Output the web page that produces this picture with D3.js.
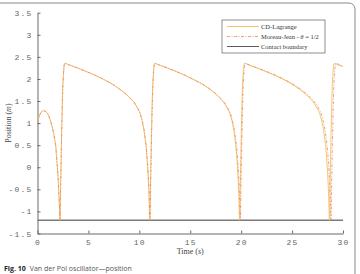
<!DOCTYPE html>
<html>
<head>
<meta charset="utf-8">
<script src="https://cdn.jsdelivr.net/npm/d3@7"></script>
<style>
  body { margin: 0; background: #fff; }
  svg { display: block; }
</style>
</head>
<body>
<div id="chart"></div>
<script>
// values (time in s, position in m)
const cdTime = [
  0, 0.25, 0.57, 0.9, 1.16, 1.4, 1.65, 1.8, 1.9, 2.0, 2.08, 2.15, 2.21,
  2.27, 2.37, 2.47, 2.55, 2.67, 3.2, 4.77, 6.41, 8.05, 9.03, 9.69, 10.18, 10.5, 10.77, 10.93, 11.03,
  11.09, 11.19, 11.29, 11.37, 11.5, 12.0, 13.6, 15.2, 16.9, 17.85, 18.5, 19.0, 19.32, 19.59, 19.75, 19.85,
  19.91, 20.01, 20.11, 20.19, 20.32, 20.8, 22.4, 24.05, 25.7, 26.67, 27.33, 27.82, 28.14, 28.41, 28.57, 28.67,
  28.73, 28.83, 28.93, 29.01, 29.14, 29.6, 30
];
const cdPos = [
  1.02, 1.2, 1.28, 1.24, 1.13, 0.95, 0.68, 0.45, 0.15, -0.15, -0.52, -0.85, -1.2,
  -0.45, 0.76, 1.7, 2.1, 2.35, 2.31, 2.17, 2.0, 1.77, 1.58, 1.39, 1.13, 0.76, 0.15, -0.52, -1.2,
  -0.45, 0.76, 1.7, 2.1, 2.35, 2.31, 2.17, 2.0, 1.77, 1.58, 1.39, 1.13, 0.76, 0.15, -0.52, -1.2,
  -0.45, 0.76, 1.7, 2.1, 2.35, 2.31, 2.17, 2.0, 1.77, 1.58, 1.39, 1.13, 0.76, 0.15, -0.52, -1.2,
  -0.45, 0.76, 1.7, 2.1, 2.35, 2.31, 2.28
];
const mjTime = [
  0, 0.25, 0.57, 0.9, 1.16, 1.4, 1.65, 1.8, 1.9, 2.0, 2.08, 2.15, 2.21,
  2.27, 2.37, 2.47, 2.55, 2.67, 3.2, 4.78, 6.42, 8.07, 9.05, 9.71, 10.2, 10.52, 10.79, 10.95, 11.05,
  11.11, 11.21, 11.31, 11.39, 11.52, 12.02, 13.63, 15.24, 16.95, 17.9, 18.56, 19.06, 19.39, 19.66, 19.82, 19.92,
  19.98, 20.08, 20.18, 20.26, 20.39, 20.88, 22.48, 24.15, 25.82, 26.8, 27.47, 27.96, 28.28, 28.56, 28.72, 28.82,
  28.88, 28.98, 29.08, 29.16, 29.29, 29.7, 30
];
const mjPos = [
  1.02, 1.2, 1.28, 1.24, 1.13, 0.95, 0.68, 0.45, 0.15, -0.15, -0.52, -0.85, -1.2,
  -0.45, 0.76, 1.7, 2.1, 2.35, 2.31, 2.17, 2.0, 1.77, 1.58, 1.39, 1.13, 0.76, 0.15, -0.52, -1.2,
  -0.45, 0.76, 1.7, 2.1, 2.35, 2.31, 2.17, 2.0, 1.77, 1.58, 1.39, 1.13, 0.76, 0.15, -0.52, -1.2,
  -0.45, 0.76, 1.7, 2.1, 2.35, 2.31, 2.17, 2.0, 1.77, 1.58, 1.39, 1.13, 0.76, 0.15, -0.52, -1.2,
  -0.45, 0.76, 1.7, 2.1, 2.35, 2.32, 2.29
];
const contactLevel = -1.2;
const xTicks = [0, 5, 10, 15, 20, 25, 30];
const yTicks = [-1.5, -1, -0.5, 0, 0.5, 1, 1.5, 2, 2.5, 3, 3.5];

const width = 360;
const height = 274;
const margin = { left: 37.5, right: 17, top: 12.7, bottom: 40.5 };

const svg = d3
  .select("#chart")
  .append("svg")
  .attr("width", width)
  .attr("height", height);

// page frame (rounded corner at top right)
svg
  .append("rect")
  .attr("x", -20)
  .attr("y", 3)
  .attr("width", 375)
  .attr("height", 320)
  .attr("rx", 6)
  .attr("fill", "none")
  .attr("stroke", "#8a8a8a")
  .attr("stroke-width", 1);

const x = d3
  .scaleLinear()
  .domain([0, 30])
  .range([margin.left, width - margin.right]);

const y = d3
  .scaleLinear()
  .domain([-1.5, 3.5])
  .range([height - margin.bottom, margin.top]);

const fmt = (d) => String(d);

const xAxis = svg
  .append("g")
  .attr("transform", `translate(0, ${y(-1.5)})`)
  .call(d3.axisBottom(x).tickValues(xTicks).tickFormat(fmt).tickSizeInner(-3).tickSizeOuter(0).tickPadding(6));

const yAxis = svg
  .append("g")
  .attr("transform", `translate(${x(0)}, 0)`)
  .call(d3.axisLeft(y).tickValues(yTicks).tickFormat(fmt).tickSizeInner(-3).tickSizeOuter(0).tickPadding(5));

[xAxis, yAxis].forEach((g) => {
  g.select(".domain").attr("stroke", "#6a6a6a").attr("stroke-width", 1);
  g.selectAll(".tick line").attr("stroke", "#6a6a6a");
  g.selectAll(".tick text")
    .attr("fill", "#666")
    .style("font-family", "'Liberation Mono', monospace")
    .style("font-size", "8px")
    .style("letter-spacing", "1.2px");
});

// contact boundary
svg
  .append("line")
  .attr("x1", x(0))
  .attr("x2", x(30))
  .attr("y1", y(contactLevel))
  .attr("y2", y(contactLevel))
  .attr("stroke", "#7a7a7a")
  .attr("stroke-width", 1.3);

const line = d3
  .line()
  .x((d) => x(d[0]))
  .y((d) => y(d[1]))
  .curve(d3.curveMonotoneX);

svg
  .append("path")
  .datum(d3.zip(cdTime, cdPos))
  .attr("d", line)
  .attr("fill", "none")
  .attr("stroke", "#f5c66e")
  .attr("stroke-width", 1);

svg
  .append("path")
  .datum(d3.zip(mjTime, mjPos))
  .attr("d", line)
  .attr("fill", "none")
  .attr("stroke", "#e58a68")
  .attr("stroke-width", 0.8)
  .attr("stroke-dasharray", "3,1.5,1,1.5");

// axis titles
const xTitle = svg
  .append("text")
  .attr("x", (x(0) + x(30)) / 2)
  .attr("y", 254)
  .attr("text-anchor", "middle")
  .attr("fill", "#444")
  .style("font-family", "'Liberation Serif', serif")
  .style("font-size", "8px");
xTitle.append("tspan").text("Time (");
xTitle.append("tspan").attr("font-style", "italic").text("s");
xTitle.append("tspan").text(")");

const yTitle = svg
  .append("text")
  .attr("transform", `translate(11, ${(y(-1.5) + y(3.5)) / 2}) rotate(-90)`)
  .attr("text-anchor", "middle")
  .attr("fill", "#444")
  .style("font-family", "'Liberation Serif', serif")
  .style("font-size", "8px");
yTitle.append("tspan").text("Position (");
yTitle.append("tspan").attr("font-style", "italic").text("m");
yTitle.append("tspan").text(")");

// legend
const legend = svg.append("g").attr("transform", "translate(222, 20)");
legend
  .append("rect")
  .attr("width", 103)
  .attr("height", 33)
  .attr("fill", "#fff")
  .attr("stroke", "#444")
  .attr("stroke-width", 0.6);

const legendItems = [
  { label: "CD-Lagrange", color: "#f5c66e", dash: null, width: 1 },
  { label: "Moreau-Jean", color: "#e58a68", dash: "3,1.5,1,1.5", width: 0.8 },
  { label: "Contact boundary", color: "#333", dash: null, width: 0.8 },
];

legendItems.forEach((d, i) => {
  const yy = 6.5 + i * 10;
  legend
    .append("line")
    .attr("x1", 5)
    .attr("x2", 37)
    .attr("y1", yy)
    .attr("y2", yy)
    .attr("stroke", d.color)
    .attr("stroke-width", d.width)
    .attr("stroke-dasharray", d.dash);
  const t = legend
    .append("text")
    .attr("x", 39)
    .attr("y", yy + 2.3)
    .attr("fill", "#333")
    .style("font-family", "'Liberation Serif', serif")
    .style("font-size", "6.5px");
  if (i === 1) {
    t.append("tspan").text("Moreau-Jean - ");
    t.append("tspan").attr("font-style", "italic").text("θ");
    t.append("tspan").text(" = 1/2");
  } else {
    t.text(d.label);
  }
});

// caption
const caption = svg
  .append("text")
  .attr("x", 4)
  .attr("y", 271)
  .style("font-family", "'Open Sans', 'Noto Sans', sans-serif")
  .style("font-size", "7px");
caption.append("tspan").attr("font-weight", "bold").attr("fill", "#222").text("Fig. 10");
caption.append("tspan").attr("dx", 4).attr("fill", "#555").text("Van der Pol oscillator—position");
</script>
</body>
</html>
